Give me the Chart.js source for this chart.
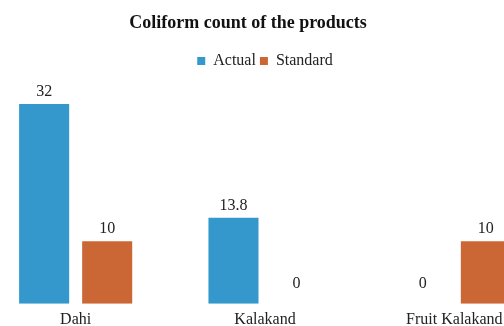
<!DOCTYPE html>
<html lang="en">
<head>
    <meta charset="UTF-8">
    <title>Coliform count of the products</title>
    <script src="https://cdn.jsdelivr.net/npm/chart.js@4.4.1/dist/chart.umd.min.js"></script>
    <style>
        html, body { margin: 0; padding: 0; background: #fff; }
        body { width: 504px; height: 326px; overflow: hidden; position: relative; }
        #wrap { position: absolute; left: -19px; top: 0; width: 568px; height: 335px; }
    </style>
</head>
<body>
    <div id="wrap"><canvas id="chart_area"></canvas></div>
    <script>
        const categories = ['Dahi', 'Kalakand', 'Fruit Kalakand'];
        const actual = [32, 13.8, 0];
        const standard = [10, 0, 10];
        const chart_title = 'Coliform count of the products';

        const serif = "'Liberation Serif', 'Times New Roman', serif";

        // title sits a little left of the legend in the original, so draw it by hand
        const titlePlugin = {
            id: 'titleText',
            afterDraw(chart) {
                const ctx = chart.ctx;
                ctx.save();
                ctx.font = 'bold 18px ' + serif;
                ctx.fillStyle = '#111';
                ctx.textAlign = 'center';
                ctx.textBaseline = 'middle';
                ctx.fillText(chart_title, chart.width / 2 - 17, 23);
                ctx.restore();
            }
        };

        // value labels above each bar
        const valueLabels = {
            id: 'valueLabels',
            afterDatasetsDraw(chart) {
                const ctx = chart.ctx;
                ctx.save();
                ctx.font = '16px ' + serif;
                ctx.fillStyle = '#222';
                ctx.textAlign = 'center';
                ctx.textBaseline = 'alphabetic';
                chart.data.datasets.forEach((ds, i) => {
                    chart.getDatasetMeta(i).data.forEach((bar, j) => {
                        const v = ds.data[j];
                        const y = v === 0 ? bar.base - 16 : bar.y - 8;
                        ctx.fillText(String(v), bar.x, y);
                    });
                });
                ctx.restore();
            }
        };

        const config = {
            type: 'bar',
            data: {
                labels: categories,
                datasets: [{
                    label: 'Actual',
                    data: actual,
                    backgroundColor: '#3498CD',
                    categoryPercentage: 0.666,
                    barPercentage: 0.794
                }, {
                    label: 'Standard',
                    data: standard,
                    backgroundColor: '#CB6735',
                    categoryPercentage: 0.666,
                    barPercentage: 0.794
                }]
            },
            options: {
                responsive: true,
                maintainAspectRatio: false,
                animation: false,
                layout: { padding: { top: 49 } },
                plugins: {
                    title: { display: false },
                    tooltip: { enabled: false },
                    legend: {
                        display: true,
                        position: 'top',
                        labels: {
                            boxWidth: 8,
                            boxHeight: 8,
                            padding: 4,
                            color: '#222',
                            font: { family: serif, size: 16 }
                        }
                    }
                },
                scales: {
                    x: {
                        grid: { display: false, drawTicks: false, tickLength: 0 },
                        border: { display: false },
                        ticks: {
                            color: '#222',
                            padding: 6,
                            font: { family: serif, size: 16 }
                        }
                    },
                    y: {
                        display: false,
                        min: 0,
                        max: 36
                    }
                }
            },
            plugins: [titlePlugin, valueLabels]
        };

        new Chart(document.getElementById('chart_area').getContext('2d'), config);
    </script>
</body>
</html>
